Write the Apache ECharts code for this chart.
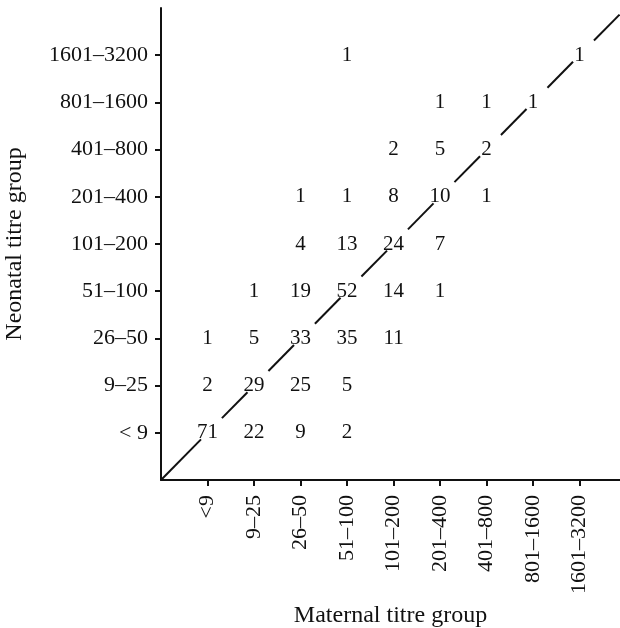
<!DOCTYPE html>
<html>
<head>
<meta charset="utf-8">
<script src="https://cdn.jsdelivr.net/npm/echarts@6/dist/echarts.min.js"></script>
<style>html,body{margin:0;padding:0;background:#fff;}#c{width:620px;height:628px;}</style>
</head>
<body>
<div id="c"></div>
<script>
const maternalGroups = ['<9', '9–25', '26–50', '51–100', '101–200', '201–400', '401–800', '801–1600', '1601–3200'];
const neonatalGroups = ['< 9', '9–25', '26–50', '51–100', '101–200', '201–400', '401–800', '801–1600', '1601–3200'];
// counts per neonatal row (index = maternal group), null = empty cell
const rowLt9      = [71, 22, 9, 2, null, null, null, null, null];
const row9_25     = [2, 29, 25, 5, null, null, null, null, null];
const row26_50    = [1, 5, 33, 35, 11, null, null, null, null];
const row51_100   = [null, 1, 19, 52, 14, 1, null, null, null];
const row101_200  = [null, null, 4, 13, 24, 7, null, null, null];
const row201_400  = [null, null, 1, 1, 8, 10, 1, null, null];
const row401_800  = [null, null, null, null, 2, 5, 2, null, null];
const row801_1600 = [null, null, null, null, null, 1, 1, 1, null];
const row1601_3200= [null, null, null, 1, null, null, null, null, 1];
const rows = [rowLt9, row9_25, row26_50, row51_100, row101_200, row201_400, row401_800, row801_1600, row1601_3200];

const X_MAX = 9.87, Y_MAX = 10;
const cells = [];
rows.forEach((r, yi) => r.forEach((v, xi) => { if (v !== null) cells.push([xi + 1, yi + 1, v]); }));

// line of equality, broken around the diagonal cells
const GAP_BEFORE = 0.14, GAP_AFTER = 0.31;
const segs = [];
for (let k = 0; k <= 9; k++) {
  const a = k === 0 ? 0 : k + GAP_AFTER;
  const b = Math.min(k + 1 - GAP_BEFORE, X_MAX);
  if (b > a) segs.push({ coords: [[a, a], [b, b]] });
}

const FONT = '"Liberation Serif", "Times New Roman", serif';
const ticks = [1, 2, 3, 4, 5, 6, 7, 8, 9];
const chart = echarts.init(document.getElementById('c'), null, { renderer: 'canvas' });
chart.setOption({
  animation: false,
  backgroundColor: '#fff',
  grid: { left: 161, right: 0, top: 8, bottom: 148, containLabel: false, outerBoundsMode: 'none' },
  xAxis: {
    type: 'value', min: 0, max: X_MAX,
    name: 'Maternal titre group', nameLocation: 'middle', nameGap: 124,
    nameTextStyle: { fontFamily: FONT, fontSize: 24, color: '#111' },
    axisLine: { show: true, onZero: false, lineStyle: { color: '#111', width: 2 } },
    axisTick: { show: true, customValues: ticks, length: 6, lineStyle: { color: '#111', width: 2 } },
    axisLabel: { show: true, customValues: ticks, rotate: 90, margin: 15, fontFamily: FONT, fontSize: 22, color: '#111',
      formatter: v => maternalGroups[Math.round(v) - 1] || '' },
    splitLine: { show: false }
  },
  yAxis: {
    type: 'value', min: 0, max: Y_MAX,
    name: 'Neonatal titre group', nameLocation: 'middle', nameGap: 134, nameRotate: 90,
    nameTextStyle: { fontFamily: FONT, fontSize: 24, color: '#111' },
    axisLine: { show: true, onZero: false, lineStyle: { color: '#111', width: 2 } },
    axisTick: { show: true, customValues: ticks, length: 6, lineStyle: { color: '#111', width: 2 } },
    axisLabel: { show: true, customValues: ticks, margin: 13, fontFamily: FONT, fontSize: 22, color: '#111',
      formatter: v => neonatalGroups[Math.round(v) - 1] || '' },
    splitLine: { show: false }
  },
  series: [
    {
      type: 'lines', coordinateSystem: 'cartesian2d', polyline: false,
      lineStyle: { color: '#111', width: 2, opacity: 1 },
      data: segs, silent: true, z: 1
    },
    {
      type: 'scatter', data: cells, symbolSize: 1, itemStyle: { color: 'rgba(0,0,0,0)' },
      label: { show: true, position: 'inside', fontFamily: FONT, fontSize: 21, color: '#111',
        textBorderWidth: 0, textBorderColor: 'transparent', opacity: 1,
        formatter: p => String(p.value[2]) },
      labelLayout: { hideOverlap: false },
      z: 2
    }
  ]
});
</script>
</body>
</html>
